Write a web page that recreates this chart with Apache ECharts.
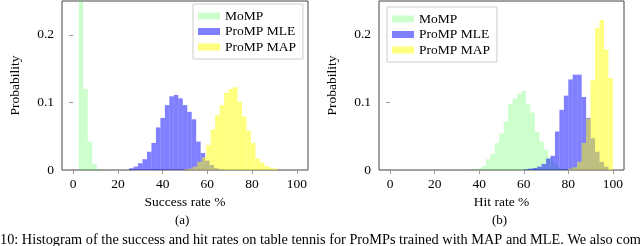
<!DOCTYPE html>
<html>
<head>
<meta charset="utf-8">
<script src="https://cdn.jsdelivr.net/npm/echarts@6/dist/echarts.min.js"></script>
<style>
html,body{margin:0;padding:0;background:#fff;}
#c{width:640px;height:246px;}
</style>
</head>
<body>
<div id="c"></div>
<script>
// ---- data (probability per bin, bin width 2) ----
const binWidth = 2;
const seriesNames = ['MoMP', 'ProMP MLE', 'ProMP MAP'];
const xTicks = [0, 20, 40, 60, 80, 100];
const yTicks = [0, 0.1, 0.2];

// (a) Success rate %
const aMoMPStart = 2.5;
const aMoMP = [0.82, 0.12, 0.042, 0.009, 0.001];
const aMLEStart = 25;
const aMLE = [0.0025, 0.005, 0.01, 0.016, 0.027, 0.040, 0.063, 0.077, 0.096, 0.109, 0.111, 0.106, 0.096, 0.086, 0.075, 0.042, 0.025, 0.014, 0.0074, 0.0025, 0.001];
const aMAPStart = 49.5;
const aMAP = [0.001, 0.002, 0.005, 0.012, 0.019, 0.037, 0.060, 0.081, 0.096, 0.114, 0.120, 0.1225, 0.101, 0.079, 0.058, 0.040, 0.017, 0.011, 0.006, 0.0035, 0.002];

// (b) Hit rate %
const bMoMPStart = 35;
const bMoMP = [0.0005, 0.001, 0.002, 0.006, 0.016, 0.024, 0.040, 0.054, 0.072, 0.098, 0.106, 0.113, 0.117, 0.097, 0.085, 0.056, 0.042, 0.030, 0.018, 0.010, 0.004, 0.0015];
const bMLEStart = 60;
const bMLE = [0.001, 0.002, 0.003, 0.005, 0.009, 0.017, 0.021, 0.057, 0.089, 0.110, 0.134, 0.141, 0.141, 0.108, 0.077, 0.047, 0.027, 0.012, 0.005];
const bMAPStart = 80;
const bMAP = [0.002, 0.004, 0.012, 0.040, 0.076, 0.133, 0.210, 0.222, 0.178, 0.136];

const colors = ['rgba(0,255,0,0.2)', 'rgba(0,0,255,0.5)', 'rgba(255,255,0,0.5)'];
const FONT = 'Liberation Serif';

function bins(start, probs) {
  return probs.map((p, i) => [start + i * binWidth, start + (i + 1) * binWidth, p]);
}

function renderItem(params, api) {
  const a = api.coord([api.value(0), api.value(2)]);
  const b = api.coord([api.value(1), 0]);
  const cs = params.coordSys;
  const r = echarts.graphic.clipRectByRect(
    {x: a[0], y: a[1], width: b[0] - a[0], height: b[1] - a[1]},
    {x: cs.x, y: cs.y, width: cs.width, height: cs.height});
  return r && {type: 'rect', shape: r, style: {fill: api.visual('color')}};
}

function hist(name, idx, data, color) {
  return {
    type: 'custom', name: name, xAxisIndex: idx, yAxisIndex: idx,
    renderItem: renderItem, itemStyle: {color: color},
    encode: {x: [0, 1], y: 2}, data: data
  };
}

function xAx(idx, name) {
  return {
    gridIndex: idx, type: 'value', min: -5, max: 105,
    axisLine: {show: false}, splitLine: {show: false},
    axisTick: {show: true, customValues: xTicks, length: 4, lineStyle: {color: '#999'}},
    axisLabel: {customValues: xTicks, margin: 7, fontFamily: FONT, fontSize: 13.5, color: '#000'},
    name: name, nameLocation: 'middle', nameGap: 17,
    nameTextStyle: {fontFamily: FONT, fontSize: 13.5, color: '#000'}
  };
}
function yAx(idx) {
  return {
    gridIndex: idx, type: 'value', min: 0, max: 0.25,
    axisLine: {show: false}, splitLine: {show: false},
    axisTick: {show: true, customValues: yTicks, length: 4, lineStyle: {color: '#999'}},
    axisLabel: {customValues: yTicks, margin: 8, fontFamily: FONT, fontSize: 13.5, color: '#000'},
    name: 'Probability', nameLocation: 'middle', nameGap: 40, nameRotate: 90,
    nameTextStyle: {fontFamily: FONT, fontSize: 13.5, color: '#000'}
  };
}
function leg(left, top) {
  return {
    data: seriesNames, orient: 'vertical', left: left, top: top,
    icon: 'rect', itemWidth: 22, itemHeight: 7, itemGap: 1.5,
    padding: [5, 7, 5, 5], backgroundColor: '#fff', borderColor: '#ccc', borderWidth: 1,
    textStyle: {fontFamily: FONT, fontSize: 13.5, color: '#000', lineHeight: 14},
    selectedMode: false
  };
}

const chart = echarts.init(document.getElementById('c'), null, {renderer: 'canvas'});
chart.setOption({
  animation: false,
  grid: [
    {left: 62, top: 1, width: 246, height: 169, show: true, borderColor: '#444', borderWidth: 1},
    {left: 379, top: 1, width: 245, height: 169, show: true, borderColor: '#444', borderWidth: 1}
  ],
  xAxis: [xAx(0, 'Success rate %'), xAx(1, 'Hit rate %')],
  yAxis: [yAx(0), yAx(1)],
  legend: [leg(193, 4), leg(387, 7)],
  series: [
    hist(seriesNames[0], 0, bins(aMoMPStart, aMoMP), colors[0]),
    hist(seriesNames[1], 0, bins(aMLEStart, aMLE), colors[1]),
    hist(seriesNames[2], 0, bins(aMAPStart, aMAP), colors[2]),
    hist(seriesNames[0], 1, bins(bMoMPStart, bMoMP), colors[0]),
    hist(seriesNames[1], 1, bins(bMLEStart, bMLE), colors[1]),
    hist(seriesNames[2], 1, bins(bMAPStart, bMAP), colors[2])
  ],
  graphic: [
    {type: 'text', left: 175, top: 214, style: {text: '(a)', font: '13px "Liberation Serif"', fill: '#000'}},
    {type: 'text', left: 492, top: 214, style: {text: '(b)', font: '13px "Liberation Serif"', fill: '#000'}},
    {type: 'text', left: 0, top: 233, style: {text: '10: Histogram of the success and hit rates on table tennis for ProMPs trained with MAP and MLE. We also compare', font: '14.3px "Liberation Serif"', fill: '#000'}}
  ]
});
</script>
</body>
</html>
